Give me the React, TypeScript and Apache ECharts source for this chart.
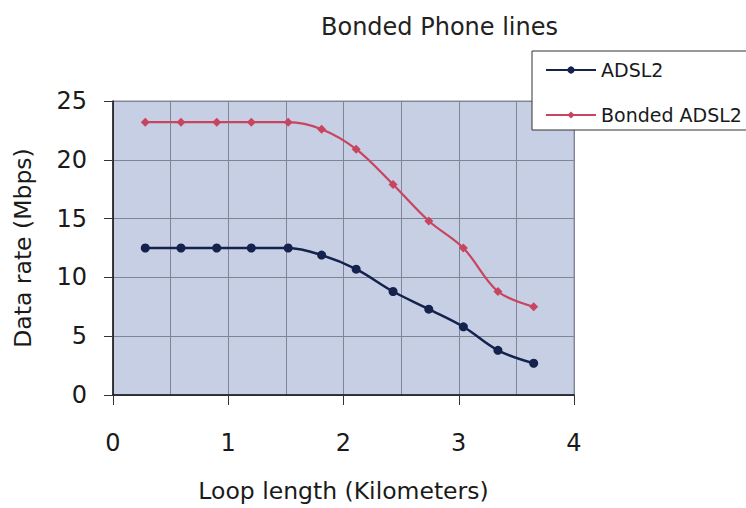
import React, { useEffect, useRef } from "react";
import * as echarts from "echarts";

const titleText = "Bonded Phone lines";
const xAxisName = "Loop length (Kilometers)";
const yAxisName = "Data rate (Mbps)";
const seriesNames = ["ADSL2", "Bonded ADSL2"];
const loopKm = [0.28, 0.59, 0.9, 1.2, 1.52, 1.81, 2.11, 2.43, 2.74, 3.04, 3.34, 3.65];
const adsl2 = [12.5, 12.5, 12.5, 12.5, 12.5, 11.9, 10.7, 8.8, 7.3, 5.8, 3.8, 2.7];
const bonded = [23.2, 23.2, 23.2, 23.2, 23.2, 22.6, 20.9, 17.9, 14.8, 12.5, 8.8, 7.5];
const xRange = [0, 4];
const yRange = [0, 25];

const FONT = "DejaVu Sans";

export default function App() {
  const ref = useRef<HTMLDivElement>(null);
  useEffect(() => {
    if (!ref.current) return;
    const chart = echarts.init(ref.current, undefined, { renderer: "svg" });
    const pairs = (ys: number[]) => loopKm.map((x, i) => [x, ys[i]]);
    chart.setOption({
      animation: false,
      backgroundColor: "#ffffff",
      title: {
        text: titleText,
        left: 316,
        top: 10,
        textStyle: { fontFamily: FONT, fontSize: 24, fontWeight: "normal", color: "#222222" },
      },
      legend: {
        left: 532,
        top: 51,
        orient: "vertical",
        backgroundColor: "#ffffff",
        borderColor: "#333333",
        borderWidth: 1,
        borderRadius: 0,
        padding: [9, 14, 5, 13],
        itemWidth: 50,
        itemHeight: 9,
        itemGap: 25,
        data: seriesNames,
        textStyle: { fontFamily: FONT, fontSize: 19, lineHeight: 20, color: "#1a1a1a" },
      },
      grid: {
        left: 113,
        top: 101,
        right: 172,
        bottom: 111,
        show: true,
        backgroundColor: "#c6cfe4",
        borderColor: "#8a8f9e",
        borderWidth: 1,
      },
      xAxis: {
        type: "value",
        min: xRange[0],
        max: xRange[1],
        interval: 1,
        name: xAxisName,
        nameLocation: "middle",
        nameGap: 84,
        nameTextStyle: { fontFamily: FONT, fontSize: 23.5, color: "#1a1a1a" },
        axisLine: { show: true, lineStyle: { color: "#111111", width: 1.5 } },
        axisTick: { show: true, length: 10, lineStyle: { color: "#333333" } },
        axisLabel: { fontFamily: FONT, fontSize: 24, color: "#1a1a1a", margin: 36 },
        splitLine: { show: true, lineStyle: { color: "#7f8596", width: 1 } },
        minorTick: { show: false, splitNumber: 2 },
        minorSplitLine: { show: true, lineStyle: { color: "#7f8596", width: 1 } },
      },
      yAxis: {
        type: "value",
        min: yRange[0],
        max: yRange[1],
        interval: 5,
        name: yAxisName,
        nameLocation: "middle",
        nameGap: 78,
        nameTextStyle: { fontFamily: FONT, fontSize: 23.5, color: "#1a1a1a" },
        axisLine: { show: true, lineStyle: { color: "#111111", width: 1.5 } },
        axisTick: { show: true, length: 9, lineStyle: { color: "#333333" } },
        axisLabel: { fontFamily: FONT, fontSize: 24, color: "#1a1a1a", margin: 26 },
        splitLine: { show: true, lineStyle: { color: "#7f8596", width: 1 } },
      },
      series: [
        {
          name: seriesNames[0],
          type: "line",
          data: pairs(adsl2),
          smooth: 0.35,
          symbol: "circle",
          symbolSize: 9,
          itemStyle: { color: "#15224d" },
          lineStyle: { color: "#15224d", width: 2.5 },
        },
        {
          name: seriesNames[1],
          type: "line",
          data: pairs(bonded),
          smooth: 0.35,
          symbol: "diamond",
          symbolSize: 9,
          itemStyle: { color: "#c8445f" },
          lineStyle: { color: "#c8445f", width: 2.2 },
        },
      ],
    });
    return () => chart.dispose();
  }, []);
  return (
    <div
      ref={ref}
      style={{ position: "fixed", left: 0, top: 0, width: 746, height: 508 }}
    />
  );
}
